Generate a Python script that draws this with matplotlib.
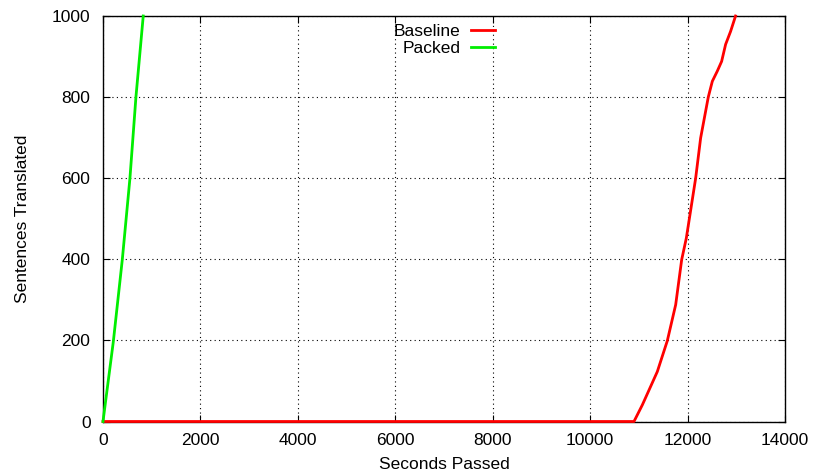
import matplotlib
matplotlib.use("Agg")
import matplotlib.pyplot as plt

# Cumulative sentences translated vs. elapsed seconds
baseline_seconds = [0, 10900, 11072, 11379, 11584, 11756, 11879, 11974, 12166,
                    12268, 12425, 12508, 12610, 12699, 12781, 12883, 12985]
baseline_sentences = [0, 0, 41, 123, 199, 288, 399, 452, 600,
                      699, 800, 839, 864, 888, 930, 962, 1000]

packed_seconds = [0, 61, 212, 396, 553, 676, 826]
packed_sentences = [0, 57, 197, 399, 600, 800, 1000]

x_ticks = [0, 2000, 4000, 6000, 8000, 10000, 12000, 14000]
y_ticks = [0, 200, 400, 600, 800, 1000]

plt.rcParams['font.family'] = ['Liberation Sans', 'DejaVu Sans']
FS = 12.5

fig = plt.figure(figsize=(8.15, 4.76), dpi=100)
ax = fig.add_axes([103 / 815, 1 - 421.5 / 476, (785 - 103) / 815, (421.5 - 16) / 476])

ax.plot(baseline_seconds, baseline_sentences, color='#ff0000', lw=2.0,
        label='Baseline', zorder=3, clip_on=False)
ax.plot(packed_seconds, packed_sentences, color='#00ee00', lw=2.0,
        label='Packed', zorder=3, clip_on=False)

ax.set_xlim(0, 14000)
ax.set_ylim(0, 1000)
ax.set_xticks(x_ticks)
ax.set_yticks(y_ticks)
ax.tick_params(direction='in', top=True, right=True, length=5, width=0.8,
               labelsize=FS)
ax.tick_params(axis='x', pad=8)
ax.tick_params(axis='y', pad=9)
ax.grid(True, color='black', linestyle=(0, (1, 3)), linewidth=0.8)
for s in ax.spines.values():
    s.set_linewidth(1.0)

ax.set_xlabel('Seconds Passed', fontsize=FS, labelpad=7)
ax.set_ylabel('Sentences Translated', fontsize=FS, labelpad=16)

leg = ax.legend(loc='upper right', bbox_to_anchor=((498 - 103) / 682, 0.988),
                frameon=False, markerfirst=False, fontsize=FS,
                handlelength=1.4, labelspacing=0.12, handletextpad=0.6,
                borderaxespad=0.0, borderpad=0.15)

fig.savefig('out.png', dpi=100)
